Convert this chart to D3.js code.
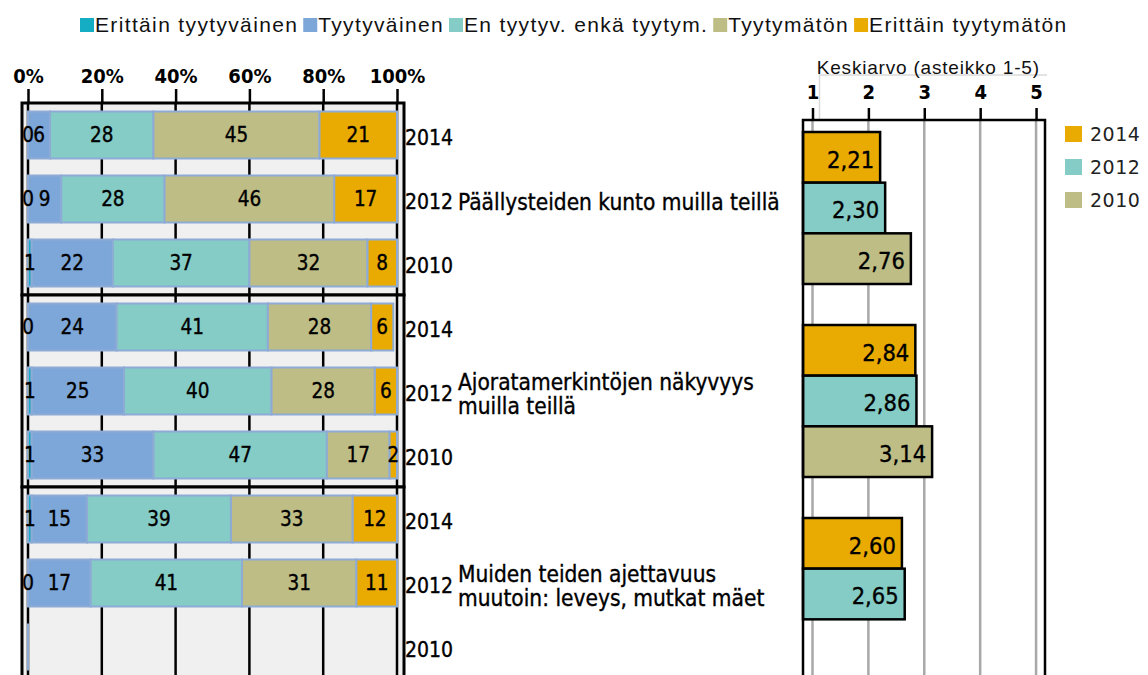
<!DOCTYPE html>
<html>
<head>
<meta charset="utf-8">
<script src="https://cdn.jsdelivr.net/npm/d3@7"></script>
<style>
  body { margin: 0; background: #fff; }
  svg { display: block; }
  .cond { font-family: "DejaVu Sans Condensed", "DejaVu Sans", sans-serif; font-stretch: condensed; }
  .heavy { stroke: #000; stroke-width: 0.35px; }
</style>
</head>
<body>
<script>
// data
var categories = ["Erittäin tyytyväinen", "Tyytyväinen", "En tyytyv. enkä tyytym.", "Tyytymätön", "Erittäin tyytymätön"];
var years = ["2014", "2012", "2010"];
var groups = ["Päällysteiden kunto muilla teillä", "Ajoratamerkintöjen näkyvyys muilla teillä", "Muiden teiden ajettavuus muutoin: leveys, mutkat mäet"];
var groupLines = [
  ["Päällysteiden kunto muilla teillä"],
  ["Ajoratamerkintöjen näkyvyys", "muilla teillä"],
  ["Muiden teiden ajettavuus", "muutoin: leveys, mutkat mäet"]
];
// shares per group, per year (2014, 2012, 2010)
var shares1 = [[0, 6, 28, 45, 21], [0, 9, 28, 46, 17], [1, 22, 37, 32, 8]];
var shares2 = [[0, 24, 41, 28, 6], [1, 25, 40, 28, 6], [1, 33, 47, 17, 2]];
var shares3 = [[1, 15, 39, 33, 12], [0, 17, 41, 31, 11], null];
var means1 = [2.21, 2.30, 2.76];
var means2 = [2.84, 2.86, 3.14];
var means3 = [2.60, 2.65, null];
var pctTicks = [0, 20, 40, 60, 80, 100];
var meanTicks = [1, 2, 3, 4, 5];

var catColors = ["#14adc3", "#7da7d8", "#84ccc5", "#bebd86", "#e9aa02"];
var yearColors = ["#e9aa02", "#84ccc5", "#bebd86"];

var shares = [shares1, shares2, shares3];
var means = [means1, means2, means3];

var width = 1148, height = 675;
var svg = d3.select("body").append("svg")
  .attr("width", width)
  .attr("height", height);

var fi = d3.formatLocale({decimal: ",", thousands: " ", grouping: [3], currency: ["", " €"]});
var fmt = fi.format(".2f");

// ---------- top legend ----------
var leg = svg.append("g").attr("transform", "translate(80,25)");
var lx = 0;
categories.forEach(function(c, i) {
  leg.append("rect").attr("x", lx).attr("y", -7).attr("width", 14).attr("height", 14).attr("fill", catColors[i]);
  var t = leg.append("text").attr("x", lx + 15).attr("y", 0).attr("dy", "0.35em")
    .style("font-family", "'Liberation Sans', Arial, sans-serif").style("font-size", "21px")
    .style("letter-spacing", "1.35px").attr("fill", "#111").text(c);
  lx += 15 + t.node().getComputedTextLength() + 5;
});

// ---------- left chart ----------
var xL = d3.scaleLinear().domain([0, 100]).range([28, 397]);
var yPanel = d3.scaleBand().domain(groups).range([103, 679]);
var yYear = d3.scaleBand().domain(years).range([0, yPanel.bandwidth()]).paddingInner(0.266).paddingOuter(0.133);

var left = svg.append("g");

groups.forEach(function(g, gi) {
  var p = left.append("g").attr("transform", "translate(0," + yPanel(g) + ")");
  p.append("rect")
    .attr("x", xL(0) - 6).attr("y", 0)
    .attr("width", xL(100) - xL(0) + 13).attr("height", yPanel.bandwidth())
    .attr("fill", "#f0f0f0");
  p.selectAll(".grid").data(pctTicks).enter().append("line")
    .attr("x1", function(d) { return xL(d); }).attr("x2", function(d) { return xL(d); })
    .attr("y1", 0).attr("y2", yPanel.bandwidth())
    .attr("stroke", "#000").attr("stroke-width", 2.5);

  years.forEach(function(yr, yi) {
    var vals = shares[gi][yi];
    var yb = yYear(yr);
    if (vals) {
      var acc = 0;
      var segs = vals.map(function(v, i) { var s = {i: i, v: v, x0: acc, x1: acc + v}; acc += v; return s; });
      p.selectAll(".seg" + yi).data(segs).enter().append("rect")
        .attr("x", function(d) { return xL(d.x0); })
        .attr("y", yb)
        .attr("width", function(d) { return xL(d.x1) - xL(d.x0); })
        .attr("height", yYear.bandwidth())
        .attr("fill", function(d) { return catColors[d.i]; })
        .attr("stroke", "#8eabd6").attr("stroke-width", 2);
      p.selectAll(".lab" + yi).data(segs).enter().append("text")
        .attr("class", "cond heavy")
        .attr("x", function(d) { return xL((d.x0 + d.x1) / 2); })
        .attr("y", yb + yYear.bandwidth() / 2)
        .attr("dy", "0.36em")
        .attr("text-anchor", "middle")
        .style("font-size", "20.5px")
        .attr("fill", "#000")
        .text(function(d) { return d.v; });
    } else {
      p.append("line")
        .attr("x1", xL(0)).attr("x2", xL(0))
        .attr("y1", yb).attr("y2", yb + yYear.bandwidth())
        .attr("stroke", "#8eabd6").attr("stroke-width", 2);
    }
    // year label
    p.append("text")
      .attr("class", "cond heavy")
      .attr("x", xL(100) + 8)
      .attr("y", yb + yYear.bandwidth() / 2 + 2)
      .attr("dy", "0.36em")
      .style("font-size", "21px")
      .attr("fill", "#000")
      .text(yr);
  });

  // group label next to 2012, one text per line
  var yc = yYear("2012") + yYear.bandwidth() / 2 + 3;
  var lines = groupLines[gi];
  var lineH = 23.5;
  lines.forEach(function(l, li) {
    p.append("text")
      .attr("class", "cond heavy")
      .attr("x", xL(100) + 61)
      .attr("y", yc - (lines.length - 1) * lineH / 2 + li * lineH)
      .attr("dy", "0.36em")
      .style("font-size", "22.5px")
      .attr("fill", "#000")
      .text(l);
  });

  p.append("rect")
    .attr("x", xL(0) - 6).attr("y", 0)
    .attr("width", xL(100) - xL(0) + 13).attr("height", yPanel.bandwidth())
    .attr("fill", "none").attr("stroke", "#000").attr("stroke-width", 3);
});

// top axis of left chart
var axL = left.append("g")
  .attr("transform", "translate(0," + yPanel.range()[0] + ")")
  .call(d3.axisTop(xL).tickValues(pctTicks).tickFormat(function(d) { return d + "%"; }).tickSize(14).tickPadding(6));
axL.select(".domain").remove();
axL.selectAll(".tick line").attr("stroke", "#000").attr("stroke-width", 2.5);
axL.selectAll(".tick text").attr("class", "cond").style("font-size", "20px").style("font-weight", "bold").attr("fill", "#000");

// ---------- right chart ----------
var xR = d3.scaleLinear().domain([0.83, 5.16]).range([803, 1045]);
var yGroupR = d3.scaleBand().domain(groups).range([107, 107 + 3 * 193]);
var yYearR = d3.scaleBand().domain(years).range([25, 177]);
var frameTop = 120;

var right = svg.append("g");

right.append("path")
  .attr("d", "M" + (xR(1) + 7) + "," + (frameTop + 2) + "V75H" + (xR.range()[1] + 2))
  .attr("fill", "none").attr("stroke", "#dadada").attr("stroke-width", 1.5);

right.append("text")
  .attr("x", (xR(1) + xR(5)) / 2 + 4)
  .attr("y", 67)
  .attr("dy", "0.35em")
  .attr("text-anchor", "middle")
  .style("font-family", "'Liberation Sans', Arial, sans-serif")
  .style("font-size", "19px")
  .style("letter-spacing", "0.8px")
  .attr("fill", "#111")
  .text("Keskiarvo (asteikko 1-5)");

right.append("rect")
  .attr("x", xR.range()[0]).attr("y", frameTop)
  .attr("width", xR.range()[1] - xR.range()[0]).attr("height", 600)
  .attr("fill", "#fff");

right.selectAll(".rgrid").data(meanTicks).enter().append("line")
  .attr("x1", function(d) { return xR(d); }).attr("x2", function(d) { return xR(d); })
  .attr("y1", frameTop).attr("y2", 700)
  .attr("stroke", "#a8a8a8").attr("stroke-width", 2.5);

groups.forEach(function(g, gi) {
  var gg = right.append("g").attr("transform", "translate(0," + yGroupR(g) + ")");
  var rows = years.map(function(yr, yi) { return {yr: yr, yi: yi, v: means[gi][yi]}; })
    .filter(function(d) { return d.v != null; });
  gg.selectAll("rect").data(rows).enter().append("rect")
    .attr("x", xR.range()[0])
    .attr("y", function(d) { return yYearR(d.yr); })
    .attr("width", function(d) { return xR(d.v) - xR.range()[0]; })
    .attr("height", yYearR.bandwidth())
    .attr("fill", function(d) { return yearColors[d.yi]; })
    .attr("stroke", "#000").attr("stroke-width", 2.5);
  gg.selectAll("text").data(rows).enter().append("text")
    .attr("class", "cond heavy")
    .attr("x", function(d) { return xR(d.v) - 6; })
    .attr("y", function(d) { return yYearR(d.yr) + yYearR.bandwidth() / 2 + 2; })
    .attr("dy", "0.36em")
    .attr("text-anchor", "end")
    .style("font-size", "23.5px")
    .attr("fill", "#000")
    .text(function(d) { return fmt(d.v); });
});

right.append("rect")
  .attr("x", xR.range()[0]).attr("y", frameTop)
  .attr("width", xR.range()[1] - xR.range()[0]).attr("height", 600)
  .attr("fill", "none").attr("stroke", "#000").attr("stroke-width", 2.5);

var axR = right.append("g")
  .attr("transform", "translate(0," + frameTop + ")")
  .call(d3.axisTop(xR).tickValues(meanTicks).tickFormat(d3.format("d")).tickSize(12).tickPadding(9));
axR.select(".domain").remove();
axR.selectAll(".tick line").attr("stroke", "#000").attr("stroke-width", 2.5);
axR.selectAll(".tick text").attr("class", "cond").style("font-size", "20px").style("font-weight", "bold").attr("fill", "#000");

// right legend
var yLeg = d3.scalePoint().domain(years).range([134, 200]);
var rl = right.append("g");
years.forEach(function(yr, yi) {
  rl.append("rect").attr("x", 1065).attr("y", yLeg(yr) - 8)
    .attr("width", 17).attr("height", 16).attr("fill", yearColors[yi]);
  rl.append("text").attr("x", 1090).attr("y", yLeg(yr)).attr("dy", "0.36em")
    .style("font-family", "'DejaVu Sans', Verdana, sans-serif").style("font-size", "19px")
    .style("letter-spacing", "0.5px")
    .attr("fill", "#222").text(yr);
});
</script>
</body>
</html>
